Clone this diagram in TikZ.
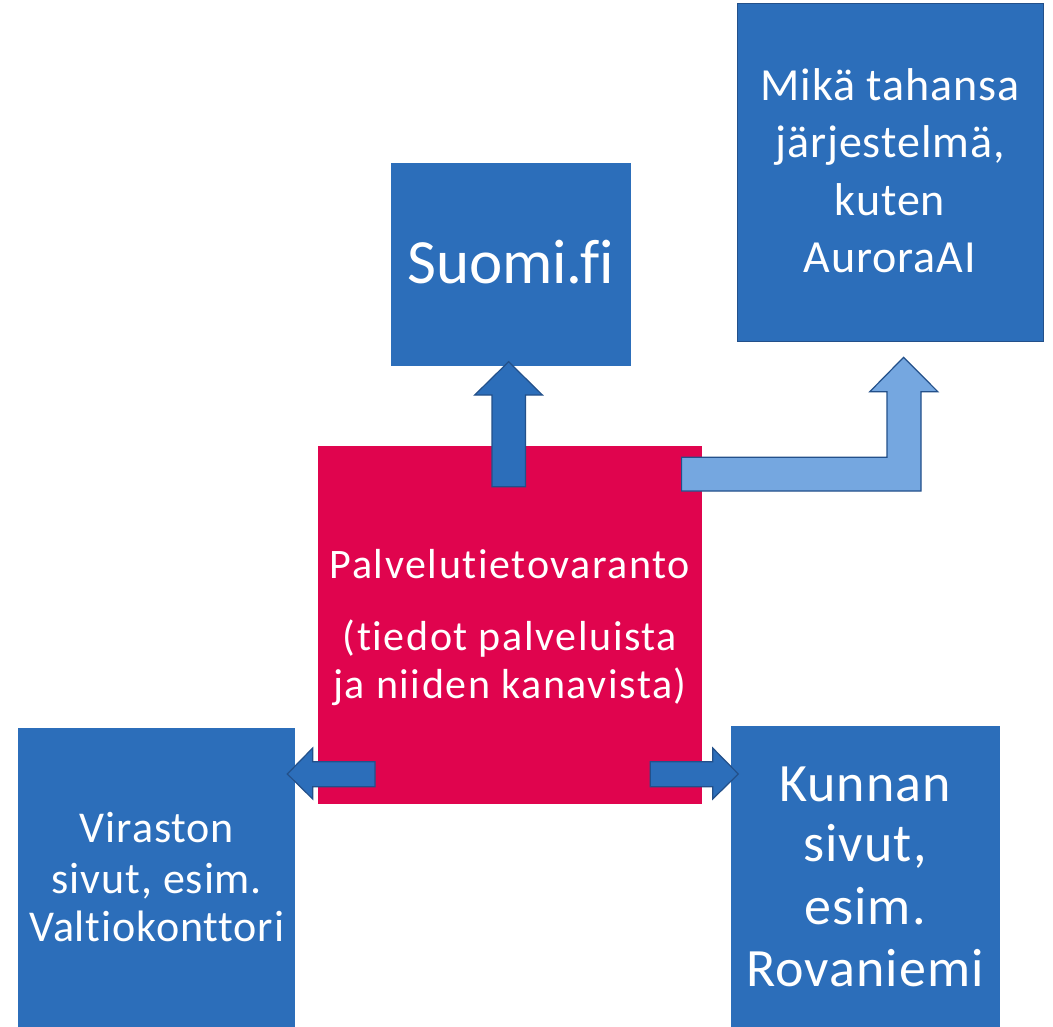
\documentclass[tikz,border=0pt]{standalone}
\usepackage{fontspec}
\setmainfont[Ligatures=NoCommon, LetterSpace=2]{Carlito}
\newfontfamily\suomifont[Ligatures=NoCommon, LetterSpace=-0.5]{Carlito}
\newfontfamily\centerfont[Ligatures=NoCommon, LetterSpace=3.8]{Carlito}
\definecolor{boxblue}{HTML}{2C6EBA}
\definecolor{edgeblue}{HTML}{23508A}
\definecolor{lightarrow}{HTML}{75A7E0}
\definecolor{hotred}{HTML}{E0044E}
\begin{document}
\begin{tikzpicture}[x=1pt,y=-1pt,
  boxshape/.style={rectangle, fill=boxblue, inner sep=0pt, anchor=north west},
  redshape/.style={rectangle, fill=hotred, inner sep=0pt, anchor=north west},
  blockarrow/.style={fill=boxblue, draw=edgeblue, line width=1.2pt, line join=miter},
  lightblock/.style={fill=lightarrow, draw=edgeblue, line width=1.2pt, line join=miter},
  txt/.style={text=white, inner sep=0pt, anchor=base},
]
\useasboundingbox (0,0) rectangle (1053,1027);
\fill[white] (0,0) rectangle (1053,1027);

% boxes
\node[redshape, minimum width=384pt, minimum height=358pt] (center) at (317.7,446) {};
\node[boxshape, minimum width=240pt, minimum height=202.7pt] (suomi) at (390.7,163.3) {};
\node[boxshape, draw=edgeblue, line width=1pt, minimum width=306.6pt, minimum height=338pt] (aurora) at (736.7,2.7) {};
\node[boxshape, minimum width=276.3pt, minimum height=300pt] (virasto) at (18,727.7) {};
\node[boxshape, minimum width=268.6pt, minimum height=302pt] (kunta) at (730.7,726) {};

% texts
\node[txt, font=\suomifont\fontsize{63}{76}\selectfont] (tsuomi) at (511,283.3) {Suomi.fi};

\node[txt, font=\fontsize{46}{56}\selectfont] (ta1) at (890,100.7) {Mikä tahansa};
\node[txt, font=\fontsize{46}{56}\selectfont] (ta2) at (890,158) {järjestelmä,};
\node[txt, font=\fontsize{46}{56}\selectfont] (ta3) at (890,215.3) {kuten};
\node[txt, font=\fontsize{46}{56}\selectfont] (ta4) at (890,272.7) {AuroraAI};

\node[txt, font=\centerfont\fontsize{42}{50}\selectfont] (tc1) at (510,578.3) {Palvelutietovaranto};
\node[txt, font=\centerfont\fontsize{42}{50}\selectfont] (tc2) at (510,650.7) {(tiedot palveluista};
\node[txt, font=\centerfont\fontsize{42}{50}\selectfont] (tc3) at (510,698) {ja niiden kanavista)};

\node[txt, font=\fontsize{44}{52}\selectfont] (tv1) at (157,842.7) {Viraston};
\node[txt, font=\fontsize{44}{52}\selectfont] (tv2) at (157,893.3) {sivut, esim.};
\node[txt, font=\fontsize{44}{52}\selectfont] (tv3) at (157,941.7) {Valtiokonttori};

\node[txt, font=\fontsize{54}{64}\selectfont] (tk1) at (865,801.7) {Kunnan};
\node[txt, font=\fontsize{54}{64}\selectfont] (tk2) at (865,861.7) {sivut,};
\node[txt, font=\fontsize{54}{64}\selectfont] (tk3) at (865,924) {esim.};
\node[txt, font=\fontsize{54}{64}\selectfont] (tk4) at (865,986.7) {Rovaniemi};

% block arrows
% up: center -> suomi
\draw[blockarrow] (492,486.7) -- (492,395) -- (474.7,395) -- (508.6,361.7)
  -- (542.4,395) -- (525.4,395) -- (525.4,486.7) -- cycle;
% bent: center -> aurora
\draw[lightblock] (681.6,457.3) -- (887,457.3) -- (887,391.7) -- (869.8,391.7)
  -- (903.6,357.3) -- (937.8,391.7) -- (921,391.7) -- (921,491) -- (681.6,491) -- cycle;
% left: center -> virasto
\draw[blockarrow] (375,761.7) -- (312.7,761.7) -- (312.7,748) -- (287.3,774)
  -- (312.7,799) -- (312.7,786.7) -- (375,786.7) -- cycle;
% right: center -> kunta
\draw[blockarrow] (650.3,761.7) -- (712.7,761.7) -- (712.7,748) -- (738.3,774)
  -- (712.7,799) -- (712.7,786.7) -- (650.3,786.7) -- cycle;
\end{tikzpicture}
\end{document}
